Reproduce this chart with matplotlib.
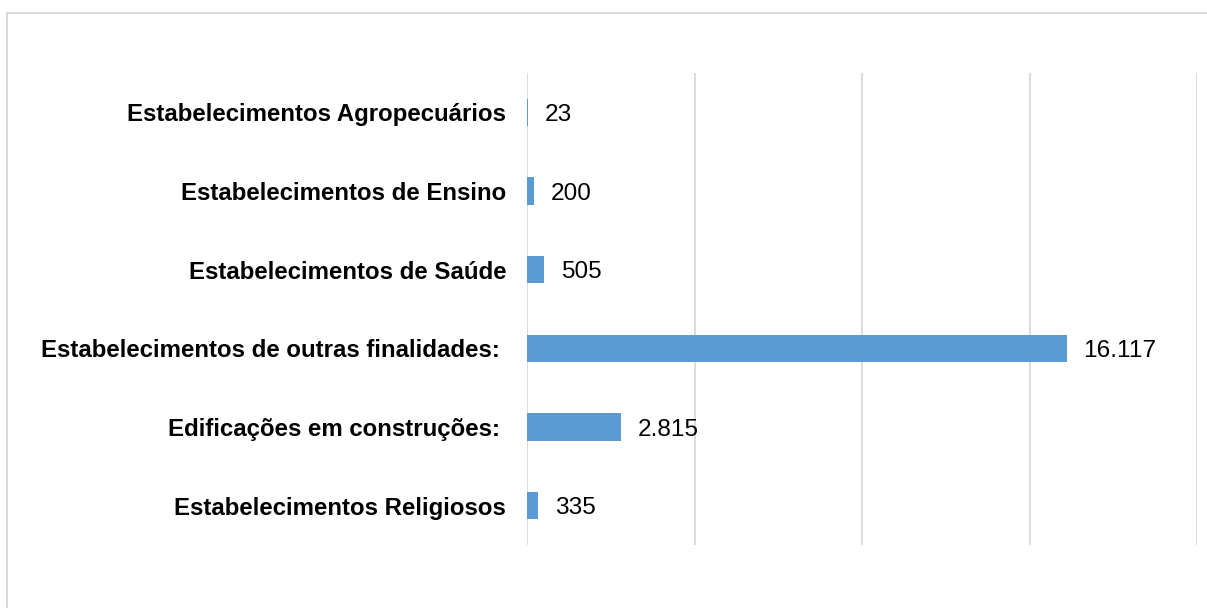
import matplotlib
matplotlib.use("Agg")
import matplotlib.pyplot as plt
from matplotlib.lines import Line2D

categories = [
    "Estabelecimentos Agropecuários",
    "Estabelecimentos de Ensino",
    "Estabelecimentos de Saúde",
    "Estabelecimentos de outras finalidades: ",
    "Edificações em construções: ",
    "Estabelecimentos Religiosos",
]
values = [23, 200, 505, 16117, 2815, 335]
value_labels = ["23", "200", "505", "16.117", "2.815", "335"]
x_ticks = [0, 5000, 10000, 15000, 20000]

plt.rcParams["font.family"] = ["Liberation Sans", "DejaVu Sans"]

W, H = 1207, 608
fig = plt.figure(figsize=(W / 100, H / 100), dpi=100)
fig.patch.set_facecolor("white")

ax = fig.add_axes([527 / W, 1 - 545 / H, (1197 - 527) / W, (545 - 73) / H])
ypos = list(range(len(categories)))
ax.barh(ypos, values, height=0.35, color="#5B9BD5", zorder=3)
ax.set_xlim(0, 20000)
ax.set_ylim(len(categories) - 0.5, -0.5)
ax.set_xticks(x_ticks)
ax.set_xticklabels([])
ax.grid(axis="x", color="#D9D9D9", linewidth=1.3, zorder=0)
ax.set_axisbelow(True)
for s in ax.spines.values():
    s.set_visible(False)
ax.tick_params(axis="both", length=0)
ax.tick_params(axis="x", labelbottom=False)
ax.set_yticks(ypos)
ax.set_yticklabels(categories, fontsize=17.3, fontweight="bold", color="black")
for t in ax.get_yticklabels():
    t.set_verticalalignment("center_baseline")
ax.tick_params(axis="y", pad=15)

for y, v, lab in zip(ypos, values, value_labels):
    ax.annotate(lab, xy=(v, y), xytext=(12, 0), textcoords="offset points",
                ha="left", va="center_baseline", fontsize=17.6, color="black", zorder=4)

# outer chart border (top and left visible)
fig.add_artist(Line2D([7 / W, 1], [1 - 13 / H, 1 - 13 / H], transform=fig.transFigure,
                      color="#D9D9D9", linewidth=1.5))
fig.add_artist(Line2D([7 / W, 7 / W], [0, 1 - 13 / H], transform=fig.transFigure,
                      color="#D9D9D9", linewidth=1.5))

fig.savefig("out.png", dpi=100, facecolor="white")
